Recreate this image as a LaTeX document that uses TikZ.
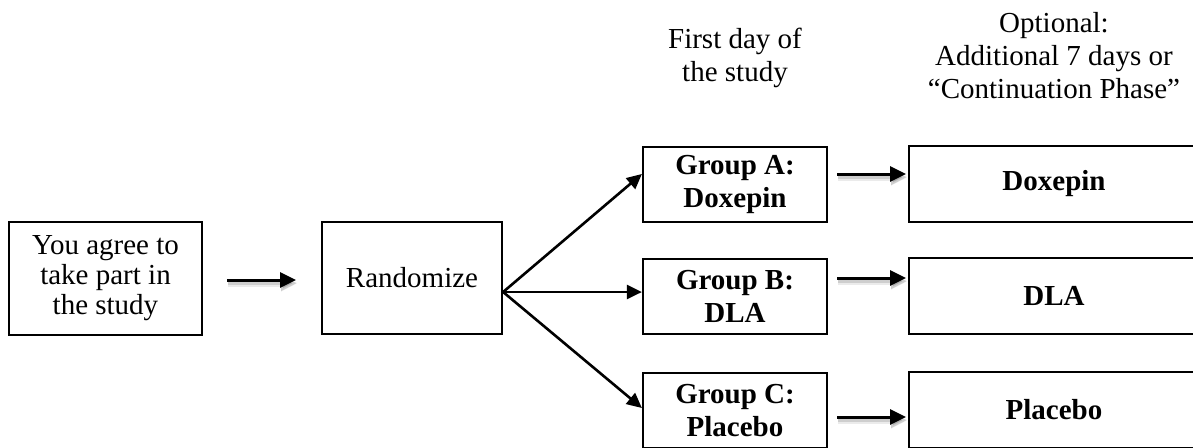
\documentclass[tikz,border=0pt]{standalone}
\usepackage{fontspec}
\setmainfont{Liberation Serif}
\usetikzlibrary{arrows.meta}
\begin{document}
\begin{tikzpicture}[x=1pt,y=-1pt,
  box/.style={draw, line width=2.2pt, inner sep=0pt, align=center,
      font=\fontsize{29}{30}\selectfont},
  grp/.style={draw, line width=2.2pt, inner sep=0pt, align=center,
      font=\fontsize{29}{33}\selectfont\bfseries},
  hdr/.style={align=center, inner sep=0pt, anchor=north,
      font=\fontsize{29}{33}\selectfont},
  shade/.style={
      preaction={draw=black, opacity=.08, line width=7pt,
        transform canvas={shift={(1pt,-3.5pt)}}},
      preaction={draw=black, opacity=.12, line width=4pt,
        transform canvas={shift={(1pt,-3pt)}}}},
  fanarrow/.style={line width=2.6pt, -{Triangle[length=15pt,width=14pt]}},
  steparrow/.style={line width=3pt, -{Triangle[length=16pt,width=15pt]}, shade}
]
\useasboundingbox (0,0) rectangle (1193,447);

% column headings
\node[hdr] (hfirst) at (735,28) {First day of\\the study};
\node[hdr] (hopt) at (1054,12) {Optional:\\Additional 7 days or\\``Continuation Phase''};

% entry and randomisation
\node[box, minimum width=193pt, minimum height=113pt] (agree) at (105.5,278.5)
  {You agree to\\take part in\\the study};
\node[box, minimum width=180pt, minimum height=112pt] (rand) at (412,278)
  {Randomize};

% first-day groups
\node[grp, minimum width=184pt, minimum height=75pt] (grpA) at (735,184.5) {Group A:\\Doxepin};
\node[grp, minimum width=184pt, minimum height=75pt] (grpB) at (735,296.5) {Group B:\\DLA};
\node[grp, minimum width=184pt, minimum height=75pt] (grpC) at (735,410.5) {Group C:\\Placebo};

% continuation phase
\node[grp, minimum width=290pt, minimum height=76pt] (contA) at (1054,184) {Doxepin};
\node[grp, minimum width=290pt, minimum height=76pt] (contB) at (1054,296) {DLA};
\node[grp, minimum width=290pt, minimum height=76pt] (contC) at (1054,410) {Placebo};

% connector end points
\coordinate (a1) at (227,280);  \coordinate (a2) at (296,280);
\coordinate (fan) at (rand.east |- 0,292);
\coordinate (tA) at (grpA.west |- 0,174);
\coordinate (tB) at (grpB.west |- 0,292);
\coordinate (tC) at (grpC.west |- 0,408);
\coordinate (sA) at (837,174); \coordinate (eA) at (906,174);
\coordinate (sB) at (837,278); \coordinate (eB) at (906,278);
\coordinate (sC) at (837,417); \coordinate (eC) at (906,417);

\draw[steparrow] (a1) -- (a2);
\draw[fanarrow] (fan) -- (tA);
\draw[fanarrow] (fan) -- (tB);
\draw[fanarrow] (fan) -- (tC);
\draw[steparrow] (sA) -- (eA);
\draw[steparrow] (sB) -- (eB);
\draw[steparrow] (sC) -- (eC);
\end{tikzpicture}
\end{document}
